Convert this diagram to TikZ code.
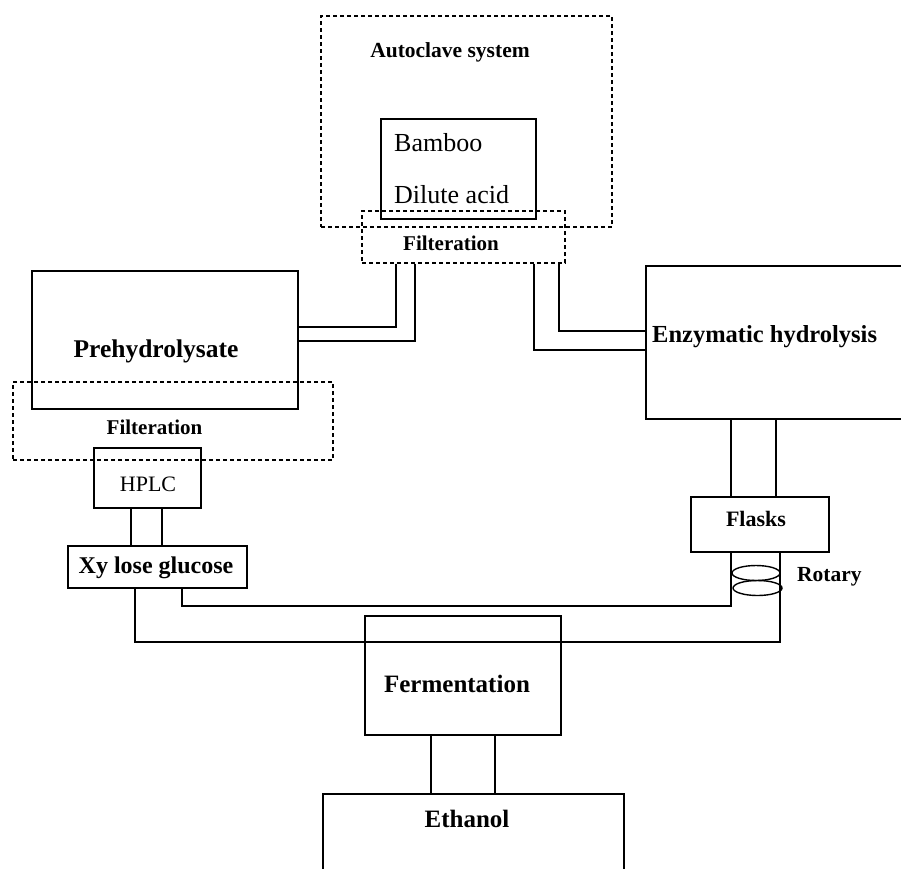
\documentclass[tikz,border=0pt]{standalone}
\usepackage{fontspec}
\setmainfont{Liberation Serif}
\usetikzlibrary{shapes.geometric}
\tikzset{
  box/.style={draw, line width=1.8pt, inner sep=0pt, rectangle},
  dbox/.style={draw, line width=1.4pt, dash pattern=on 4pt off 3pt, inner sep=0pt, rectangle},
  pipe/.style={line width=1.8pt},
  ring/.style={draw, ellipse, line width=1.4pt, inner sep=0pt, minimum width=48pt, minimum height=15pt},
  lbl/.style={inner sep=0pt, font=\bfseries\fontsize{#1}{#1}\selectfont},
  rlbl/.style={inner sep=0pt, font=\fontsize{#1}{#1}\selectfont},
}
\begin{document}
\begin{tikzpicture}[x=1pt,y=-1pt]
\useasboundingbox (0,0) rectangle (901,868);
\clip (0,0) rectangle (901,868);
% boxes
\node[dbox, minimum width=291pt, minimum height=211pt] (auto) at (466.5,121.5) {};
\node[box, minimum width=155pt, minimum height=100pt] (bamboo) at (458.5,169) {};
\node[dbox, minimum width=203pt, minimum height=52pt] (filt1) at (463.5,237) {};
\node[box, minimum width=266pt, minimum height=138pt] (prehyd) at (165,340) {};
\node[dbox, minimum width=320pt, minimum height=78pt] (filt2) at (173,421) {};
\node[box, minimum width=107pt, minimum height=60pt] (hplc) at (147.5,478) {};
\node[box, minimum width=179pt, minimum height=42pt] (xyl) at (157.5,567) {};
\node[box, minimum width=264pt, minimum height=153pt] (enz) at (778,342.5) {};
\node[box, minimum width=138pt, minimum height=55pt] (flasks) at (760,524.5) {};
\node[box, minimum width=196pt, minimum height=119pt] (ferm) at (463,675.5) {};
\node[box, minimum width=301pt, minimum height=86pt] (eth) at (473.5,837) {};
\node[ring] (rot1) at (756,573) {};
\node[ring, minimum width=49pt] (rot2) at (757.5,588) {};
% labels
\node[lbl=21.5] (tauto) at (450,52) {Autoclave system};
\node[rlbl=26, anchor=west] (tbam) at (394,143) {Bamboo};
\node[rlbl=26, anchor=west] (tdil) at (394,195) {Dilute acid};
\node[lbl=21] (tf1) at (451,243) {Filteration};
\node[lbl=25.5] (tpre) at (156,351) {Prehydrolysate};
\node[lbl=21] (tf2) at (154.5,427) {Filteration};
\node[rlbl=22] (thplc) at (148,484) {HPLC};
\node[lbl=24] (txyl) at (156,568) {Xy lose glucose};
\node[lbl=24.5, anchor=west] (tenz) at (652,337) {Enzymatic hydrolysis};
\node[lbl=22] (tfl) at (756,519) {Flasks};
\node[lbl=21.5, anchor=west] (trot) at (797,577) {Rotary};
\node[lbl=25] (tferm) at (457,684) {Fermentation};
\node[lbl=25] (teth) at (467,819) {Ethanol};
% connectors
\draw[pipe] ([xshift=35pt]filt1.south west) |- ([yshift=13pt]prehyd.east);
\draw[pipe] ([xshift=54pt]filt1.south west) |- ([yshift=-1pt]prehyd.east);
\draw[pipe] ([xshift=173pt]filt1.south west) |- ([yshift=-7.5pt]enz.west);
\draw[pipe] ([xshift=198pt]filt1.south west) |- ([yshift=11.5pt]enz.west);
\draw[pipe] ([xshift=38pt]hplc.south west) -- ([xshift=38pt]hplc.south west |- xyl.north);
\draw[pipe] ([xshift=69pt]hplc.south west) -- ([xshift=69pt]hplc.south west |- xyl.north);
\draw[pipe] ([xshift=86pt]enz.south west) -- ([xshift=86pt]enz.south west |- flasks.north);
\draw[pipe] ([xshift=131pt]enz.south west) -- ([xshift=131pt]enz.south west |- flasks.north);
\draw[pipe] ([xshift=41pt]flasks.south west) -- ++(0,53) -| ([xshift=115pt]xyl.south west);
\draw[pipe] ([xshift=90pt]flasks.south west) -- ++(0,89) -| ([xshift=68pt]xyl.south west);
\draw[pipe] ([xshift=67pt]ferm.south west) -- ([xshift=67pt]ferm.south west |- eth.north);
\draw[pipe] ([xshift=131pt]ferm.south west) -- ([xshift=131pt]ferm.south west |- eth.north);
\end{tikzpicture}
\end{document}
